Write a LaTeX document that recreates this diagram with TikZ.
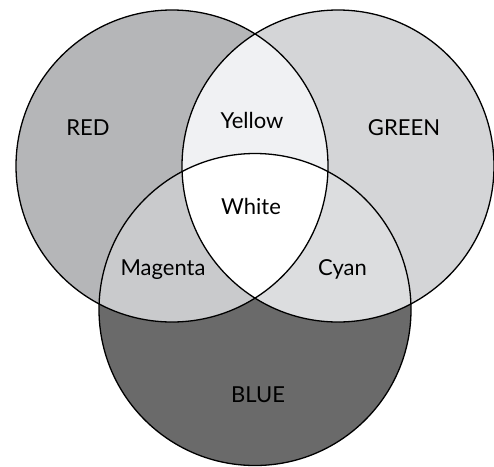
\documentclass[tikz,border=0pt]{standalone}
\usepackage{fontspec}
\setmainfont{Lato}
\definecolor{RedFill}{HTML}{B5B6B8}
\definecolor{GreenFill}{HTML}{D4D5D7}
\definecolor{BlueFill}{HTML}{6A6A6A}
\definecolor{YellowFill}{HTML}{F0F1F3}
\definecolor{MagentaFill}{HTML}{C9CACC}
\definecolor{CyanFill}{HTML}{DCDDDF}
\tikzset{
  ring/.style={draw=black, line width=1.3pt},
  tag/.style={font=\fontsize{22}{24}\selectfont, text=black, anchor=base, inner sep=0pt}
}
\newcommand{\rad}{156pt}

\begin{document}
\begin{tikzpicture}[x=1pt,y=-1pt]
  \useasboundingbox (0,0) rectangle (494,466);
  \coordinate (cred) at (172,166);
  \coordinate (cgreen) at (338,166);
  \coordinate (cblue) at (255,309.5);
  % single colours
  \fill[RedFill] (cred) circle (\rad);
  \fill[GreenFill] (cgreen) circle (\rad);
  \fill[BlueFill] (cblue) circle (\rad);
  % pairs
  \begin{scope}
    \clip (cred) circle (\rad);
    \fill[YellowFill] (cgreen) circle (\rad);
    \fill[MagentaFill] (cblue) circle (\rad);
  \end{scope}
  \begin{scope}
    \clip (cgreen) circle (\rad);
    \fill[CyanFill] (cblue) circle (\rad);
  \end{scope}
  % all three
  \begin{scope}
    \clip (cred) circle (\rad);
    \clip (cgreen) circle (\rad);
    \fill[white] (cblue) circle (\rad);
  \end{scope}
  \draw[ring] (cred) circle (\rad);
  \draw[ring] (cgreen) circle (\rad);
  \draw[ring] (cblue) circle (\rad);
  % labels
  \node[tag] (red) at (88,135) {RED};
  \node[tag] (green) at (404,135) {GREEN};
  \node[tag] (blue) at (258,402) {BLUE};
  \node[tag] (yellow) at (252,128) {Yellow};
  \node[tag] (white) at (251,214) {White};
  \node[tag] (magenta) at (163,275) {Magenta};
  \node[tag] (cyan) at (342.5,275) {Cyan};
\end{tikzpicture}
\end{document}
